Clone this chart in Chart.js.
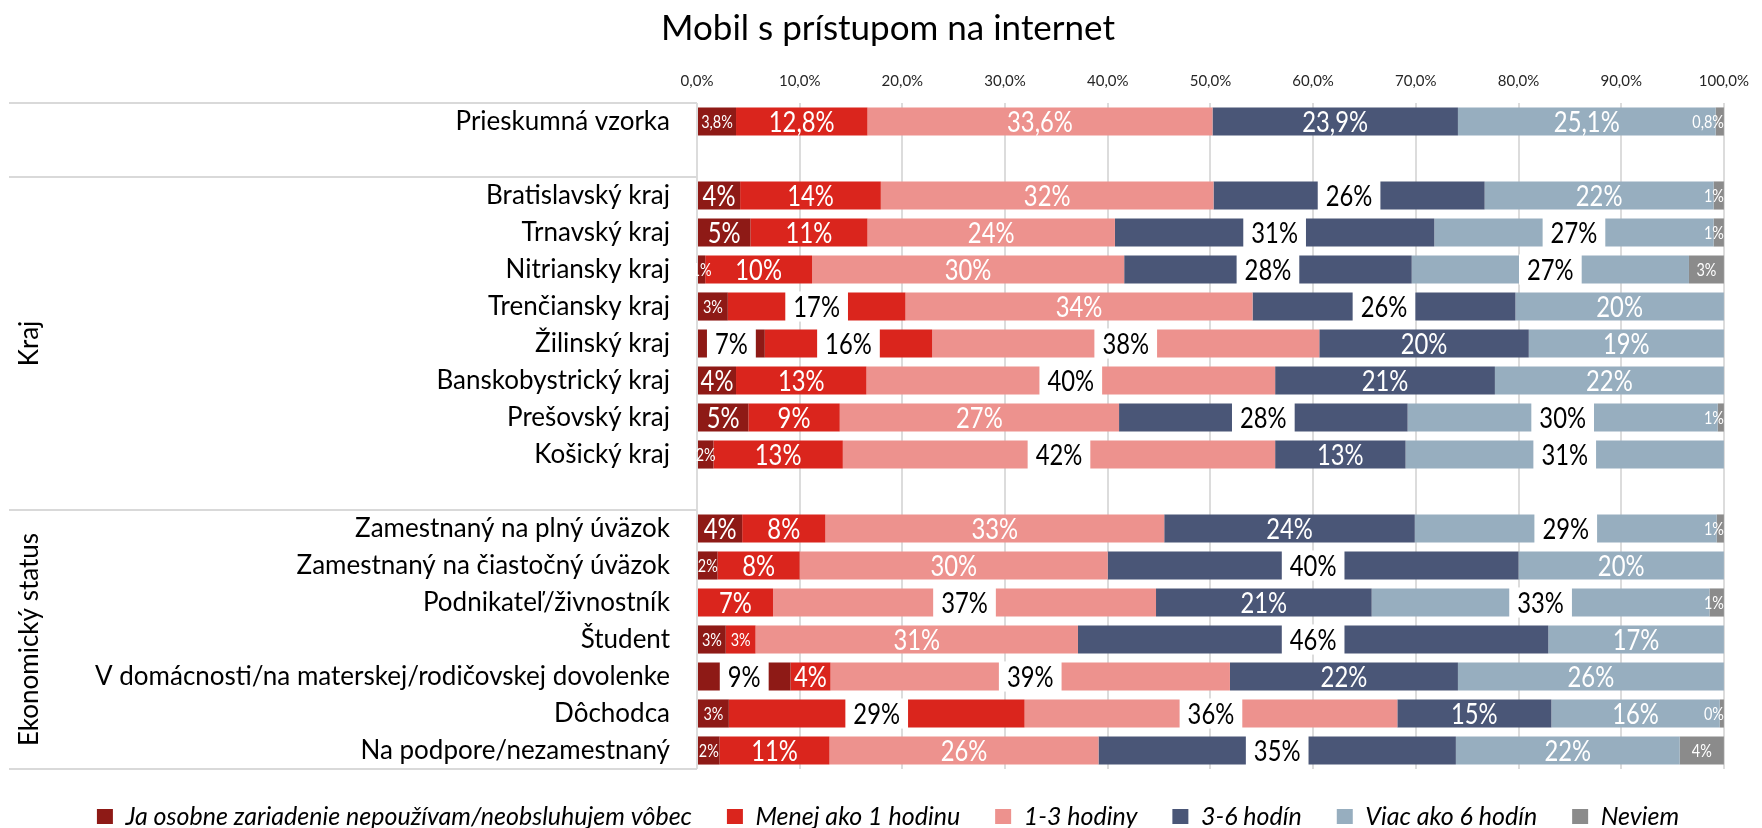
<!DOCTYPE html>
<html><head><meta charset="utf-8">
<script src="https://cdn.jsdelivr.net/npm/chart.js@4/dist/chart.umd.min.js"></script>
<style>html,body{margin:0;padding:0;background:#fff;}#wrap{width:1762px;height:828px;}</style>
</head><body><div id="wrap"><canvas id="c" width="1762" height="828"></canvas></div>
<script>
const title = 'Mobil s prístupom na internet';
const categories = [
  'Prieskumná vzorka', '',
  'Bratislavský kraj', 'Trnavský kraj', 'Nitriansky kraj', 'Trenčiansky kraj',
  'Žilinský kraj', 'Banskobystrický kraj', 'Prešovský kraj', 'Košický kraj', '',
  'Zamestnaný na plný úväzok', 'Zamestnaný na čiastočný úväzok', 'Podnikateľ/živnostník',
  'Študent', 'V domácnosti/na materskej/rodičovskej dovolenke', 'Dôchodca', 'Na podpore/nezamestnaný'
];
const groupNames = ['', 'Kraj', 'Ekonomický status'];
const groupStarts = [0, 2, 11];
const seriesNames = ['Ja osobne zariadenie nepoužívam/neobsluhujem vôbec', 'Menej ako 1 hodinu', '1-3 hodiny', '3-6 hodín', 'Viac ako 6 hodín', 'Neviem'];
const seriesColors = ['#8E1A16', '#DA251D', '#ED928E', '#4A5677', '#97AEBF', '#8B8B8B'];
const nepouzivam = [3.8, null, 4.2, 5.2, 0.8, 3.0, 6.6, 3.8, 5.0, 1.6, null, 4.4, 2.0, 0, 2.8, 9.1, 3.1, 2.2];
const menejAko1  = [12.8, null, 13.7, 11.4, 10.4, 17.3, 16.3, 12.7, 8.9, 12.6, null, 8.1, 8.0, 7.4, 2.9, 3.9, 28.8, 10.7];
const hodiny1_3  = [33.6, null, 32.4, 24.1, 30.4, 33.8, 37.7, 39.8, 27.2, 42.1, null, 33.0, 30.0, 37.3, 31.4, 38.9, 36.3, 26.2];
const hodin3_6   = [23.9, null, 26.4, 31.1, 28.0, 25.6, 20.4, 21.4, 28.1, 12.7, null, 24.4, 40.0, 21.0, 45.8, 22.2, 15.0, 34.8];
const viacAko6   = [25.1, null, 22.3, 27.2, 27.0, 20.3, 19.0, 22.3, 30.2, 31.0, null, 29.4, 20.0, 32.9, 17.1, 25.9, 16.4, 21.8];
const neviem     = [0.8, null, 1.0, 1.0, 3.4, null, null, null, 0.6, null, null, 0.7, null, 1.4, null, null, 0.4, 4.3];
const seriesValues = [nepouzivam, menejAko1, hodiny1_3, hodin3_6, viacAko6, neviem];
// series indices whose labels are highlighted (black text on white), per category
const emphasized = [[], [], [3], [3, 4], [3, 4], [1, 3], [0, 1, 2], [2], [3, 4], [2, 4], [], [4], [3], [2, 4], [3], [0, 2], [1, 2], [3]];
const oneDecimalRows = ['Prieskumná vzorka'];
const tickValues = [0, 10, 20, 30, 40, 50, 60, 70, 80, 90, 100];

const FONT = 'Lato';
const SX = 0.85;
function fmtLabel(v, i) {
  if (oneDecimalRows.includes(categories[i])) return v.toFixed(1).replace('.', ',') + '%';
  return Math.round(v) + '%';
}

const groupPlugin = {
  id: 'groups',
  afterDraw(chart) {
    const {ctx, chartArea, scales: {y}} = chart;
    ctx.save();
    ctx.strokeStyle = '#D9D9D9';
    ctx.lineWidth = 2;
    const boundary = i => (y.getPixelForValue(i) + y.getPixelForValue(i + 1)) / 2;
    const ys = [chartArea.top, ...groupStarts.slice(1).map(s => boundary(s - 1)), chartArea.bottom];
    ys.forEach(yy => { ctx.beginPath(); ctx.moveTo(9, yy); ctx.lineTo(chartArea.left, yy); ctx.stroke(); });
    groupNames.forEach((name, g) => {
      if (!name) return;
      const a = groupStarts[g];
      const b = (g + 1 < groupStarts.length ? groupStarts[g + 1] : categories.length) - 1;
      const cy = (y.getPixelForValue(a) + y.getPixelForValue(b)) / 2;
      ctx.save();
      ctx.translate(30, cy);
      ctx.rotate(-Math.PI / 2);
      ctx.font = '26px ' + FONT;
      ctx.textAlign = 'center';
      ctx.textBaseline = 'middle';
      ctx.fillStyle = '#000';
      ctx.fillText(name, 0, 0);
      ctx.restore();
    });
    ctx.restore();
  }
};

const labelPlugin = {
  id: 'barLabels',
  afterDatasetsDraw(chart) {
    const ctx = chart.ctx;
    const area = chart.chartArea;
    ctx.save();
    ctx.textAlign = 'center';
    ctx.textBaseline = 'middle';
    chart.data.datasets.forEach((ds, di) => {
      const meta = chart.getDatasetMeta(di);
      meta.data.forEach((bar, i) => {
        const v = ds.data[i];
        if (v === null || v === undefined || v === 0) return;
        const txt = fmtLabel(v, i);
        const {x, y, base, height} = bar.getProps(['x', 'y', 'base', 'height'], true);
        let cx = (x + base) / 2;
        const segW = Math.abs(x - base);
        const emph = emphasized[i].includes(di);
        let size = 28;
        ctx.font = size + 'px ' + FONT;
        let w = ctx.measureText(txt).width * SX;
        if (!emph && (di === 5 || w + 4 > segW)) {
          size = 17;
          ctx.font = size + 'px ' + FONT;
          w = ctx.measureText(txt).width * SX;
        }
        if (cx + w / 2 > area.right) cx = area.right - w / 2;
        if (emph) {
          ctx.fillStyle = '#FFFFFF';
          ctx.fillRect(cx - w / 2 - 8, y - height / 2 - 1, w + 16, height + 2);
        }
        ctx.fillStyle = emph ? '#000000' : '#FFFFFF';
        ctx.save();
        ctx.translate(cx, y + 1);
        ctx.scale(SX, 1);
        ctx.fillText(txt, 0, 0);
        ctx.restore();
      });
    });
    ctx.restore();
  }
};

new Chart(document.getElementById('c'), {
  type: 'bar',
  data: {
    labels: categories,
    datasets: seriesNames.map((n, k) => ({
      label: n,
      data: seriesValues[k],
      backgroundColor: seriesColors[k],
      borderWidth: 0,
      barPercentage: 0.76,
      categoryPercentage: 1.0
    }))
  },
  options: {
    indexAxis: 'y',
    responsive: false,
    animation: false,
    devicePixelRatio: 1,
    layout: {padding: {left: 42, right: 28, top: 0, bottom: -11}},
    scales: {
      x: {
        position: 'top', stacked: true, min: 0, max: 100,
        afterBuildTicks(s) { s.ticks = tickValues.map(v => ({value: v})); },
        ticks: {
          padding: 13, color: '#262626', font: {family: FONT, size: 15},
          callback: v => v.toFixed(1).replace('.', ',') + '%'
        },
        grid: {color: '#DCDCDC', lineWidth: 2, drawTicks: false},
        border: {display: false},
        afterFit(s) { s.height = 53; }
      },
      y: {
        stacked: true,
        ticks: {padding: 27, color: '#000', font: {family: FONT, size: 26}, autoSkip: false},
        grid: {display: false, drawTicks: false},
        border: {display: false},
        afterFit(s) { s.width = 655; }
      }
    },
    plugins: {
      title: {
        display: true, text: title, color: '#000',
        font: {family: FONT, size: 35, weight: 'normal'},
        padding: {top: 8, bottom: 0}
      },
      legend: {
        position: 'bottom',
        labels: {
          color: '#000', font: {family: FONT, size: 25, style: 'italic'},
          boxWidth: 16, boxHeight: 15, padding: 35
        }
      },
      tooltip: {enabled: false}
    }
  },
  plugins: [groupPlugin, labelPlugin]
});
</script>
</body></html>
